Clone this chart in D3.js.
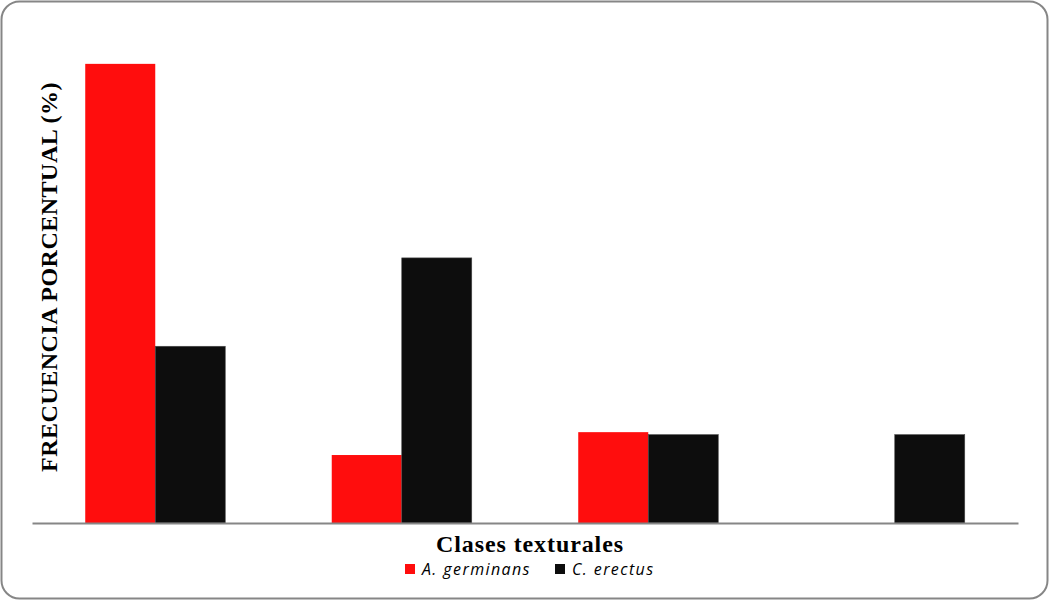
<!DOCTYPE html>
<html>
<head>
<meta charset="utf-8">
<script src="https://cdn.jsdelivr.net/npm/d3@7"></script>
<style>
  body { margin: 0; background: #fff; }
</style>
</head>
<body>
<div id="chart"></div>
<script>
const width = 1050;
const height = 601;
const margin = { top: 41, right: 32, bottom: 78, left: 32 };

// clases texturales (no labels shown in the original)
const categories = ["Clase 1", "Clase 2", "Clase 3", "Clase 4"];
const seriesNames = ["A. germinans", "C. erectus"];
const germinans = [74.3, 11.0, 14.7, 0];
const erectus = [28.6, 42.9, 14.3, 14.3];
const yMax = 78;
const colors = ["#ff0d0d", "#0d0d0d"];

const data = categories.map((c, i) => ({ cat: c, values: [germinans[i], erectus[i]] }));

const svg = d3.select("#chart").append("svg")
    .attr("width", width)
    .attr("height", height);

// rounded border
svg.append("rect")
    .attr("x", 1.5).attr("y", 1.5)
    .attr("width", width - 4).attr("height", height - 4)
    .attr("rx", 18).attr("ry", 18)
    .attr("fill", "#fff")
    .attr("stroke", "#868686")
    .attr("stroke-width", 2);

const x = d3.scaleBand()
    .domain(categories)
    .range([margin.left, width - margin.right])
    .paddingInner(0.432)
    .paddingOuter(0.216);

const xSub = d3.scaleBand()
    .domain(seriesNames)
    .range([0, x.bandwidth()]);

const y = d3.scaleLinear()
    .domain([0, yMax])
    .range([height - margin.bottom, margin.top]);

const groups = svg.selectAll(".grp")
    .data(data)
    .enter().append("g")
    .attr("class", "grp")
    .attr("transform", d => `translate(${x(d.cat)},0)`);

groups.selectAll("rect")
    .data(d => d.values.map((v, i) => ({ name: seriesNames[i], v: v, i: i })))
    .enter().append("rect")
    .filter(d => d.v > 0)
    .attr("x", d => xSub(d.name))
    .attr("y", d => y(d.v))
    .attr("width", xSub.bandwidth())
    .attr("height", d => y(0) - y(d.v))
    .attr("fill", d => colors[d.i])
    .attr("stroke", d => d.i == 1 ? "#4a4a4a" : "none")
    .attr("stroke-width", 0.6);

// x axis line, no ticks or labels
const xAxis = d3.axisBottom(x).tickSize(0).tickFormat("");
const gX = svg.append("g")
    .attr("transform", `translate(0,${y(0)})`)
    .call(xAxis);
gX.select(".domain").attr("stroke", "#868686").attr("stroke-width", 2);

// y label
svg.append("text")
    .attr("transform", `translate(57,277) rotate(-90)`)
    .attr("text-anchor", "middle")
    .style("font-family", "'Liberation Serif', 'Times New Roman', serif")
    .style("font-weight", "bold")
    .style("font-size", "24px")
    .style("letter-spacing", "0.5px")
    .text("FRECUENCIA PORCENTUAL (%)");

// x title
svg.append("text")
    .attr("x", 530)
    .attr("y", 552)
    .attr("text-anchor", "middle")
    .style("font-family", "'Liberation Serif', 'Times New Roman', serif")
    .style("font-weight", "bold")
    .style("font-size", "24px")
    .style("letter-spacing", "0.9px")
    .text("Clases texturales");

// legend
const legendX = [405, 555];
const legend = svg.selectAll(".leg")
    .data(seriesNames)
    .enter().append("g")
    .attr("class", "leg")
    .attr("transform", (d, i) => `translate(${legendX[i]},564)`);

legend.append("rect")
    .attr("width", 10).attr("height", 10)
    .attr("fill", (d, i) => colors[i]);

legend.append("text")
    .attr("x", 17)
    .attr("y", 11)
    .style("font-family", "'Open Sans', sans-serif")
    .style("font-style", "italic")
    .style("font-size", "16px")
    .style("letter-spacing", "1.4px")
    .text(d => d);
</script>
</body>
</html>
